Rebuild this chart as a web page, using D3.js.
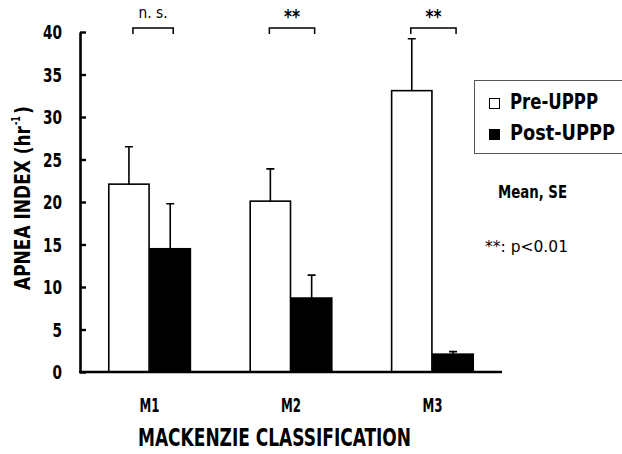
<!DOCTYPE html>
<html><head><meta charset="utf-8">
<script src="https://cdn.jsdelivr.net/npm/d3@7"></script>
<style>body{margin:0;background:#fff}svg{display:block}</style></head><body>
<script>
const categories = ["M1", "M2", "M3"];
const series = ["Pre-UPPP", "Post-UPPP"];
const preMean = [22.1, 20.1, 33.1];
const preSE = [4.4, 3.8, 6.1];
const postMean = [14.5, 8.7, 2.1];
const postSE = [5.3, 2.7, 0.3];
const significance = ["n. s.", "**", "**"];
const yTicks = [0, 5, 10, 15, 20, 25, 30, 35, 40];
const yTitle = ["APNEA INDEX (hr", "-1", ")"];
const xTitle = "MACKENZIE CLASSIFICATION";
const notes = ["Mean, SE", "**: p<0.01"];

const W = 622, H = 454;
const FONT = "'DejaVu Sans Condensed','DejaVu Sans',sans-serif";
const svg = d3.select("body").append("svg").attr("width", W).attr("height", H)
  .style("font-family", FONT);

const x0 = d3.scaleBand().domain(categories).range([80, 502]).paddingInner(0.416).paddingOuter(0.2);
const x1 = d3.scaleBand().domain(series).range([0, x0.bandwidth()]);
const y = d3.scaleLinear().domain([0, 40]).range([372, 32]);

const rows = categories.map((c, i) => ({
  cat: c,
  vals: [
    {s: series[0], m: preMean[i], se: preSE[i]},
    {s: series[1], m: postMean[i], se: postSE[i]}
  ],
  sig: significance[i]
}));

// bars
const g = svg.selectAll("g.grp").data(rows).join("g").attr("class", "grp")
  .attr("transform", d => `translate(${x0(d.cat)},0)`);
g.selectAll("rect").data(d => d.vals).join("rect")
  .attr("x", d => x1(d.s) + 0.5)
  .attr("y", d => y(d.m))
  .attr("width", x1.bandwidth() - 1)
  .attr("height", d => y(0) - y(d.m))
  .attr("fill", d => d.s === series[0] ? "#fff" : "#000")
  .attr("stroke", "#000").attr("stroke-width", 1.6);

// error bars (upper only)
g.selectAll("path.err").data(d => d.vals).join("path").attr("class", "err")
  .attr("d", d => {
    const cx = x1(d.s) + x1.bandwidth() / 2;
    const t = y(d.m + d.se);
    return `M${cx},${y(d.m)}V${t}M${cx - 4},${t}H${cx + 4}`;
  })
  .attr("fill", "none").attr("stroke", "#000").attr("stroke-width", 1.6);

// significance brackets
g.each(function(d, i) {
  const a = x1(series[0]) + x1.bandwidth() / 2 + (i === 0 ? 4 : -1);
  const b = x1(series[1]) + x1.bandwidth() / 2 + 3;
  const top = 28;
  d3.select(this).append("path")
    .attr("d", `M${a},${top + 6}V${top}H${b}V${top + 6}`)
    .attr("fill", "none").attr("stroke", "#000").attr("stroke-width", 1.5);
  const star = d.sig === "**";
  d3.select(this).append("text")
    .attr("x", (a + b) / 2).attr("y", star ? 23 : 18)
    .attr("text-anchor", "middle")
    .attr("font-size", star ? 19 : 16)
    .attr("font-weight", star ? "bold" : "normal")
    .attr("textLength", star ? 16 : 29).attr("lengthAdjust", "spacingAndGlyphs")
    .text(d.sig);
});

// y axis
const yAxis = d3.axisLeft(y).tickValues(yTicks).tickSizeInner(-6).tickSizeOuter(0).tickPadding(18);
const ya = svg.append("g").attr("transform", "translate(80,0)").call(yAxis);
ya.select(".domain").attr("stroke-width", 2.6);
ya.selectAll(".tick line").attr("stroke-width", 2.4);
ya.selectAll(".tick text").attr("font-size", 19).attr("font-family", FONT)
  .attr("font-weight", "bold").attr("fill", "#000").attr("dy", "0.36em")
  .attr("textLength", d => d >= 10 ? 19 : 9.5).attr("lengthAdjust", "spacingAndGlyphs");

// x axis baseline
svg.append("path").attr("d", `M79,${y(0)}H502`).attr("stroke", "#000").attr("stroke-width", 2.6);

// x tick labels
const xAxis = d3.axisBottom(x0).tickSize(0).tickPadding(0);
const xa = svg.append("g").attr("transform", `translate(0,${y(0)})`).call(xAxis);
xa.select(".domain").remove();
xa.selectAll(".tick text").attr("font-size", 19).attr("font-weight", "bold")
  .attr("font-family", FONT).attr("fill", "#000").attr("y", 40).attr("dy", 0)
  .attr("textLength", 20).attr("lengthAdjust", "spacingAndGlyphs");

// axis titles
svg.append("text").attr("x", 138).attr("y", 446)
  .attr("font-size", 24).attr("font-weight", "bold")
  .attr("textLength", 273).attr("lengthAdjust", "spacingAndGlyphs")
  .text(xTitle);
const yt = svg.append("g").attr("transform", "translate(30,290) rotate(-90)")
  .attr("font-size", 21).attr("font-weight", "bold");
yt.append("text").attr("x", 0).attr("y", 0)
  .attr("textLength", 164).attr("lengthAdjust", "spacingAndGlyphs").text(yTitle[0]);
yt.append("text").attr("x", 165).attr("y", -10).attr("font-size", 13)
  .attr("textLength", 9).attr("lengthAdjust", "spacingAndGlyphs").text(yTitle[1]);
yt.append("text").attr("x", 176).attr("y", 0)
  .attr("textLength", 8).attr("lengthAdjust", "spacingAndGlyphs").text(yTitle[2]);

// legend
svg.append("rect").attr("x", 474.5).attr("y", 80.5).attr("width", 160).attr("height", 73)
  .attr("fill", "#fff").attr("stroke", "#555").attr("stroke-width", 1);
const leg = svg.selectAll("g.leg").data(series).join("g").attr("class", "leg")
  .attr("transform", (d, i) => `translate(489,${98 + i * 31})`);
leg.append("rect").attr("x", 0.5).attr("y", 0.5).attr("width", 10).attr("height", 10)
  .attr("fill", (d, i) => i === 0 ? "#fff" : "#000").attr("stroke", "#000").attr("stroke-width", 1);
leg.append("text").attr("x", 21).attr("y", 11)
  .attr("font-size", 21).attr("font-weight", "bold")
  .attr("textLength", (d, i) => i === 0 ? 88 : 105).attr("lengthAdjust", "spacingAndGlyphs")
  .text(d => d);

// notes
svg.append("text").attr("x", 498).attr("y", 198).attr("font-size", 17).attr("font-weight", "bold")
  .attr("textLength", 69).attr("lengthAdjust", "spacingAndGlyphs").text(notes[0]);
svg.append("text").attr("x", 485).attr("y", 252).attr("font-size", 15)
  .attr("textLength", 83).attr("lengthAdjust", "spacingAndGlyphs").text(notes[1]);
</script>
</body></html>
